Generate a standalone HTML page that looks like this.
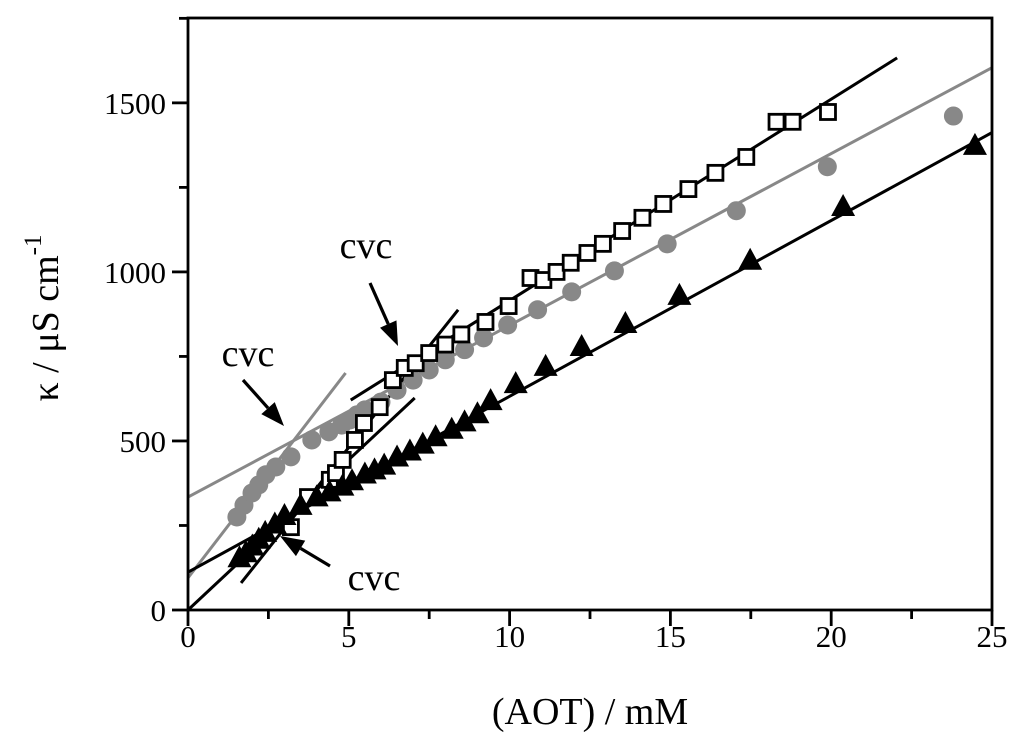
<!DOCTYPE html>
<html><head><meta charset="utf-8"><style>
html,body{margin:0;padding:0;background:#fff;}
svg{display:block;font-family:"Liberation Serif",serif;}
</style></head><body>
<svg id="c" width="1024" height="742" viewBox="0 0 1024 742"></svg>
<script>
const xTicks=[0,5,10,15,20,25];
const yTicks=[0,500,1000,1500];
const sqX=[3.2,3.73,4.41,4.6,4.81,5.19,5.47,5.96,6.37,6.74,7.08,7.5,8.0,8.5,9.25,9.97,10.65,11.05,11.46,11.9,12.42,12.9,13.5,14.13,14.78,15.56,16.4,17.36,18.3,18.8,19.9];
const sqY=[245,334,385,405,444,503,553,600,680,716,730,760,785,815,852,899,982,976,1000,1027,1056,1083,1121,1160,1201,1245,1293,1340,1444,1444,1473];
const ciX=[1.52,1.74,1.99,2.2,2.42,2.73,3.2,3.85,4.38,4.78,5.03,5.25,5.5,6.0,6.5,7.0,7.5,8.0,8.6,9.19,9.94,10.87,11.93,13.26,14.9,17.05,19.88,23.8];
const ciY=[275,310,346,370,400,423,453,503,527,547,562,577,592,615,650,680,710,740,770,805,843,888,941,1003,1083,1181,1311,1461];
const trX=[1.6,1.8,2.0,2.2,2.4,2.7,3.0,3.5,4.0,4.4,4.8,5.1,5.5,5.8,6.1,6.5,6.9,7.3,7.7,8.2,8.6,9.0,9.41,10.19,11.12,12.24,13.6,15.28,17.48,20.37,24.47];
const trY=[150,165,185,205,225,250,275,305,330,345,362,378,398,410,424,448,466,486,508,530,552,576,615,665,716,775,843,926,1030,1189,1370];
const fitSqLow=[[1.65,80],[8.4,888]];
const fitSqHigh=[[5.06,621],[22.05,1633]];
const fitCiLow=[[0,95],[4.9,701]];
const fitCiHigh=[[0,334],[25,1604]];
const fitTrLow=[[0,0],[7.05,627]];
const fitTrHigh=[[0,112],[25,1412]];

const NS="http://www.w3.org/2000/svg";
const svg=document.getElementById('c');
const L=188,R=992,T=18,B=610,XMAX=25,YMAX=1751;
const sx=v=>L+v*(R-L)/XMAX;
const sy=v=>B-v*(B-T)/YMAX;
function el(t,a,p){const e=document.createElementNS(NS,t);for(const k in a)e.setAttribute(k,a[k]);(p||svg).appendChild(e);return e;}

function fit(pts,col,name){
  const e=el('line',{x1:sx(pts[0][0]),y1:sy(pts[0][1]),x2:sx(pts[1][0]),y2:sy(pts[1][1]),stroke:col,'stroke-width':3});
  
  
}
fit(fitCiLow,'#888','fit-circles-low');
fit(fitCiHigh,'#888','fit-circles-high');
fit(fitSqLow,'#000','fit-squares-low');
fit(fitSqHigh,'#000','fit-squares-high');
fit(fitTrLow,'#000','fit-triangles-low');
fit(fitTrHigh,'#000','fit-triangles-high');

ciX.forEach((x,i)=>{const e=el('circle',{cx:sx(x),cy:sy(ciY[i]),r:9.5,fill:'#888'});
  
  });
sqX.forEach((x,i)=>{const cx=sx(x),cy=sy(sqY[i]);
  const e=el('rect',{x:cx-7.5,y:cy-7.5,width:15,height:15,fill:'#fff',stroke:'#000','stroke-width':2.8});
  
  });
trX.forEach((x,i)=>{const cx=sx(x),cy=sy(trY[i]);
  const e=el('polygon',{points:`${cx},${cy-14} ${cx-12},${cy+8} ${cx+12},${cy+8}`,fill:'#000'});
  
  });

const f=el('rect',{x:L,y:T,width:R-L,height:B-T,fill:'none',stroke:'#000','stroke-width':2.8});



for(let v=0;v<=XMAX;v+=2.5){const maj=v%5===0;el('line',{x1:sx(v),y1:B,x2:sx(v),y2:B+(maj?16:9),stroke:'#000','stroke-width':2.8});}
for(let v=0;v<=1750;v+=250){const maj=v%500===0;el('line',{x1:L,y1:sy(v),x2:L-(maj?16:9),y2:sy(v),stroke:'#000','stroke-width':2.8});}
xTicks.forEach(v=>{const t=el('text',{x:sx(v),y:647,'font-size':31,'text-anchor':'middle'});t.textContent=v;
  
  });
yTicks.forEach(v=>{const t=el('text',{x:166,y:sy(v)+11,'font-size':31,'text-anchor':'end'});t.textContent=v;
  
  });

function arrow(x1,y1,x2,y2,name){
  const g=el('g',{});
  
  
  const a=Math.atan2(y2-y1,x2-x1),h=24,w=9;
  const bx=x2-h*Math.cos(a),by=y2-h*Math.sin(a);
  el('line',{x1,y1,x2:bx,y2:by,stroke:'#000','stroke-width':3.2},g);
  el('polygon',{points:`${x2},${y2} ${bx+w*Math.sin(a)},${by-w*Math.cos(a)} ${bx-w*Math.sin(a)},${by+w*Math.cos(a)}`,fill:'#000'},g);
}
arrow(370,283,398,346,'cvc-arrow-squares');
arrow(243,380,284,426,'cvc-arrow-circles');
arrow(330,566,280,536,'cvc-arrow-triangles');
[[366,258,'cvc-label-squares'],[248,366,'cvc-label-circles'],[374,590,'cvc-label-triangles']].forEach(p=>{
  const t=el('text',{x:p[0],y:p[1],'font-size':38,'text-anchor':'middle'});t.textContent='cvc';
  
  });

const xt=el('text',{x:590,y:724,'font-size':38,'text-anchor':'middle'});xt.textContent='(AOT) / mM';


const yt=el('text',{x:0,y:0,'font-size':38,'text-anchor':'middle',transform:'translate(58,318) rotate(-90)'});
yt.innerHTML='κ / μS cm<tspan dy="-17" font-size="25">-1</tspan>';


</script>
</body></html>
